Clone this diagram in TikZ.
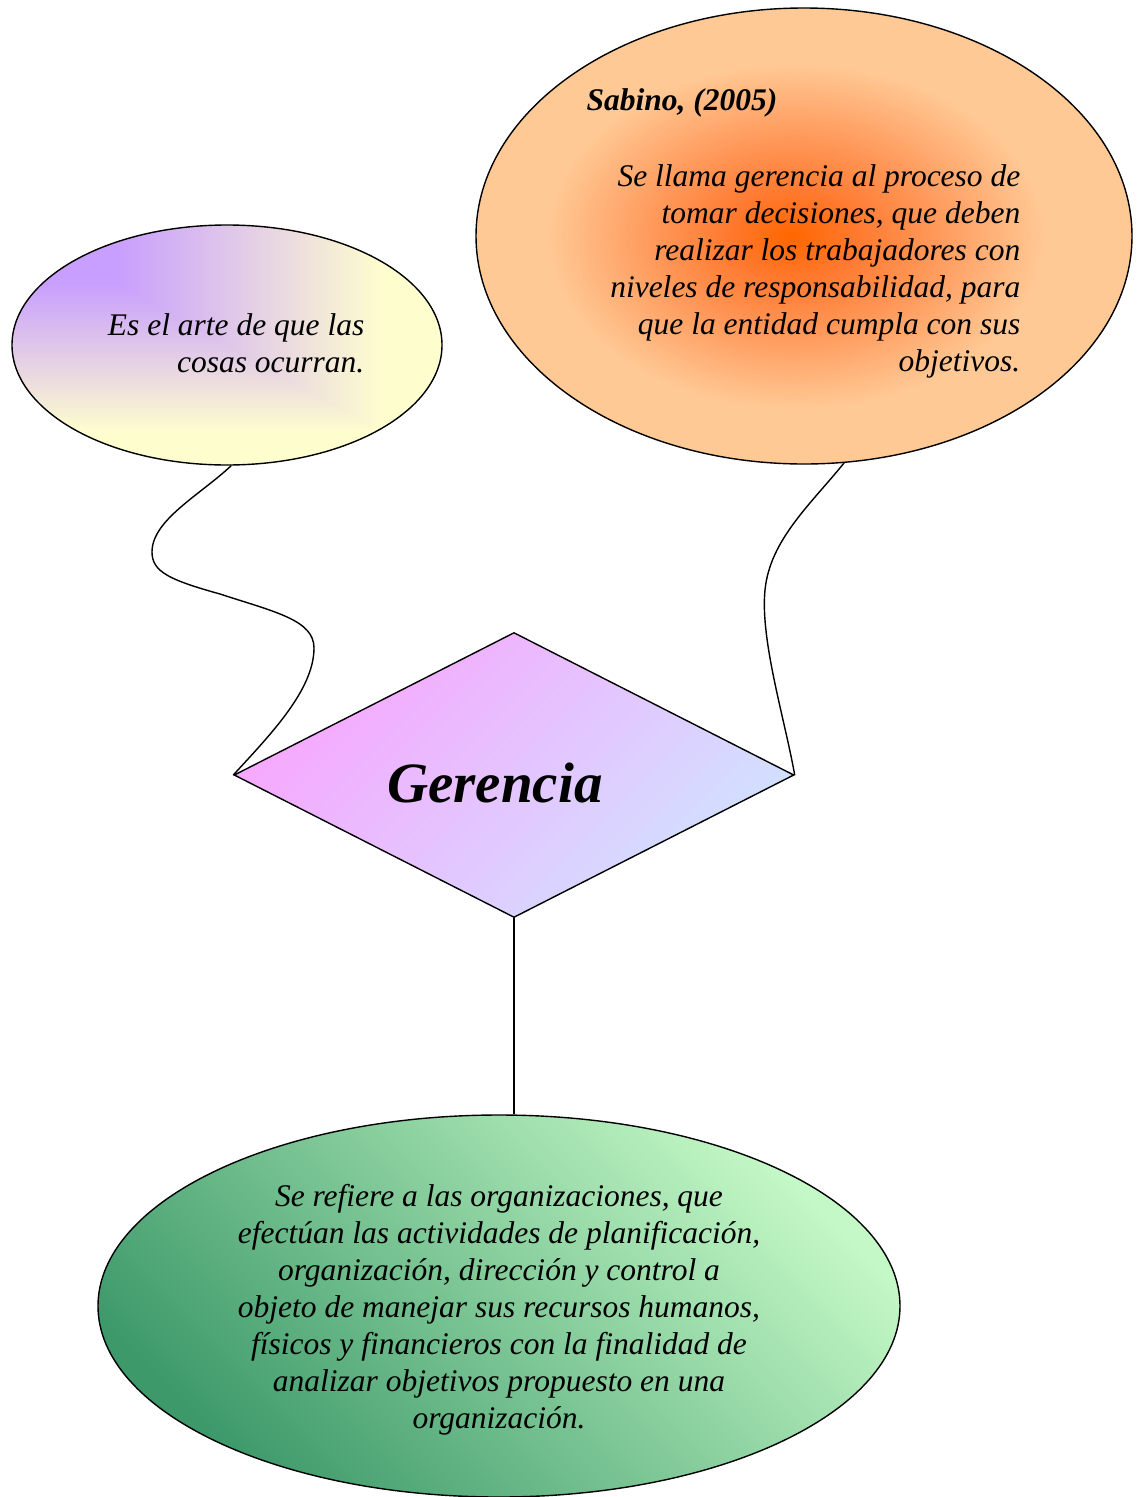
\documentclass[tikz,border=0pt]{standalone}
\usepackage{fontspec}
\setmainfont{Liberation Serif}
\usetikzlibrary{shapes.geometric,positioning}

\definecolor{lilac}{HTML}{C89EFE}
\definecolor{cream}{HTML}{FEFDCE}
\definecolor{ember}{HTML}{FF6600}
\definecolor{flame}{HTML}{FF7A30}
\definecolor{apricot}{HTML}{FF9A5C}
\definecolor{peach}{HTML}{FFC995}
\definecolor{mint}{HTML}{C4F8C6}
\definecolor{fern}{HTML}{3D996A}
\definecolor{orchid}{HTML}{F8A6FE}
\definecolor{sky}{HTML}{D0E2FF}

\pgfdeclarehorizontalshading{lilacrow}{100bp}{color(0bp)=(lilac); color(37bp)=(lilac); color(68bp)=(cream); color(100bp)=(cream)}
\pgfdeclareverticalshading{lilaccol}{100bp}{color(0bp)=(cream); color(32bp)=(cream); color(63bp)=(lilac); color(100bp)=(lilac)}
\pgfdeclareradialshading{peachglow}{\pgfpoint{-1bp}{0bp}}{color(0bp)=(ember); color(5bp)=(flame); color(11bp)=(apricot); color(19bp)=(peach); color(50bp)=(peach)}

\begin{document}
\begin{tikzpicture}[x=1pt,y=-1pt,line width=1.4pt,on grid,
        every node/.style={inner sep=0pt},
        txt/.style={font=\itshape\fontsize{31.5}{37}\selectfont},
        txtb/.style={font=\bfseries\itshape\fontsize{31.5}{37}\selectfont},
        ]
                        \useasboundingbox (0,0) rectangle (1138,1497);

                        \node [diamond, draw, top color=orchid, bottom color=sky, shading angle=45, minimum width=560pt, minimum height=285pt](1) at (514,775) {};
                        \node [ellipse, draw, minimum width=430pt, minimum height=240pt,
                            path picture={
                                \shade[shading=lilaccol] (path picture bounding box.north west) rectangle (path picture bounding box.south east);
                                \shade[shading=lilacrow] (path picture bounding box.north west) -- (path picture bounding box.north east) -- (path picture bounding box.south east) -- cycle;
                            }](2) [above left=430pt and 287pt of 1] {};
                        \node [ellipse, draw, shade, shading=peachglow, minimum width=656pt, minimum height=456pt](3) [above right=539pt and 290pt of 1] {};
                        \node [ellipse, draw, top color=mint, bottom color=fern, shading angle=-45, minimum width=802pt, minimum height=382pt](4) [below left=531pt and 15pt of 1] {};

                        \node [font=\bfseries\itshape\fontsize{57}{68}\selectfont](5) at (495,783) {Gerencia};
                        \node [txt, align=right, anchor=east](6) at (365,343) {Es el arte de que las\\cosas ocurran.};
                        \node [txtb, anchor=west](7) at (586,103) {Sabino, (2005)};
                        \node [txt, align=right, anchor=east](8) at (1021,271) {Se llama gerencia al proceso de\\tomar decisiones, que deben\\realizar los trabajadores con\\niveles de responsabilidad, para\\que la entidad cumpla con sus\\objetivos.};
                        \node [txt, align=center](9) at (499,1310) {Se refiere a las organizaciones, que\\efectúan las actividades de planificación,\\organización, dirección y control a\\objeto de manejar sus recursos humanos,\\físicos y financieros con la finalidad de\\analizar objetivos propuesto en una\\organización.};

                        \draw (2.-88) .. controls (200,495) and (152,520) .. (152,552)
                            .. controls (152,572) and (170,580) .. (220,594)
                            .. controls (275,612) and (314,620) .. (314,648)
                            .. controls (314,690) and (270,735) .. (1.west);
                        \draw (3.-80) .. controls (810,505) and (770,540) .. (765,590)
                            .. controls (760,640) and (785,720) .. (1.east);
                        \draw (1.south) -- (1.south |- 4.north);
                    \end{tikzpicture}
\end{document}
